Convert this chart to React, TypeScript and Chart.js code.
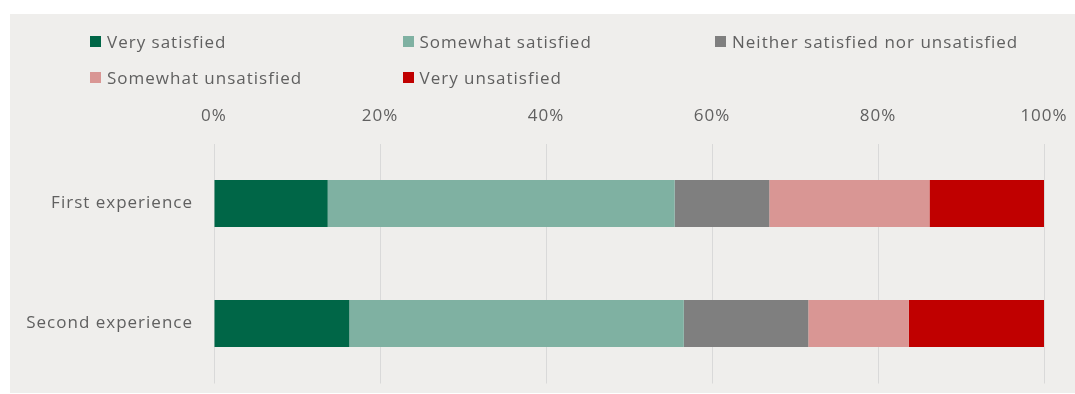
import React, { useEffect, useRef } from "react";
import { Chart, registerables } from "chart.js";

Chart.register(...registerables);

const categories = ["First experience", "Second experience"];
const seriesNames = [
  "Very satisfied",
  "Somewhat satisfied",
  "Neither satisfied nor unsatisfied",
  "Somewhat unsatisfied",
  "Very unsatisfied",
];
const seriesColors = ["#006647", "#7FB1A2", "#7F7F7F", "#D99694", "#C00000"];
const verySatisfied = [13.7, 16.3];
const somewhatSatisfied = [41.8, 40.3];
const neither = [11.4, 15.0];
const somewhatUnsatisfied = [19.3, 12.1];
const veryUnsatisfied = [13.8, 16.3];
const seriesValues = [verySatisfied, somewhatSatisfied, neither, somewhatUnsatisfied, veryUnsatisfied];
const xTicks = [0, 20, 40, 60, 80, 100];

const FONT = "'Open Sans', 'DejaVu Sans', sans-serif";
const TEXT = "#606060";

// legend layout: [column, row]
const legendSlots = [
  [0, 0],
  [1, 0],
  [2, 0],
  [0, 1],
  [1, 1],
];

export default function App() {
  const ref = useRef<HTMLCanvasElement | null>(null);

  useEffect(() => {
    if (!ref.current) return;
    const spacing = {
      id: "spacing",
      beforeDraw(chart: any) {
        chart.ctx.letterSpacing = "1px";
      },
    };
    const chart = new Chart(ref.current, {
      type: "bar",
      data: {
        labels: categories,
        datasets: seriesNames.map((name, i) => ({
          label: name,
          data: seriesValues[i],
          backgroundColor: seriesColors[i],
          borderWidth: 0,
          barPercentage: 0.39,
          categoryPercentage: 1,
        })),
      },
      options: {
        indexAxis: "y",
        responsive: false,
        animation: false,
        layout: { padding: { left: 0, right: 31, top: 0, bottom: 9.5 } },
        plugins: {
          legend: { display: false },
          tooltip: { enabled: false },
        },
        scales: {
          x: {
            position: "top",
            stacked: true,
            min: 0,
            max: 100,
            afterBuildTicks(scale: any) {
              scale.ticks = xTicks.map((v) => ({ value: v }));
            },
            afterFit(scale: any) {
              scale.height = 129.5;
              scale.paddingLeft = 0;
              scale.paddingRight = 0;
            },
            ticks: {
              padding: 17,
              color: TEXT,
              font: { family: FONT, size: 17 },
              callback: (v: any) => v + "%",
            },
            grid: { color: "#D9D9D9", drawTicks: false, lineWidth: 1 },
            border: { display: false },
          },
          y: {
            stacked: true,
            afterFit(scale: any) {
              scale.width = 204;
              scale.paddingTop = 0;
              scale.paddingBottom = 0;
            },
            ticks: {
              padding: 21,
              color: TEXT,
              font: { family: FONT, size: 17 },
            },
            grid: { display: false, drawTicks: false },
            border: { display: false },
          },
        },
      },
      plugins: [spacing],
    } as any);
    return () => chart.destroy();
  }, []);

  return (
    <div
      style={{
        position: "absolute",
        left: 10,
        top: 14,
        width: 1065,
        height: 379,
        background: "#EFEEEC",
        overflow: "hidden",
      }}
    >
      <canvas
        ref={ref}
        width={1065}
        height={379}
        style={{ position: "absolute", left: 0, top: 0, width: 1065, height: 379 }}
      />
      {seriesNames.map((name, i) => {
        const [col, row] = legendSlots[i];
        return (
          <div
            key={name}
            style={{
              position: "absolute",
              left: 80 + col * 312.5,
              top: 27.5 + row * 35.5 - 12,
              height: 24,
              display: "flex",
              alignItems: "center",
              fontFamily: FONT,
              fontSize: 17,
              letterSpacing: "1px",
              color: TEXT,
              whiteSpace: "nowrap",
            }}
          >
            <span
              style={{
                display: "inline-block",
                width: 11,
                height: 11,
                background: seriesColors[i],
                marginRight: 6,
              }}
            />
            <span>{name}</span>
          </div>
        );
      })}
    </div>
  );
}
